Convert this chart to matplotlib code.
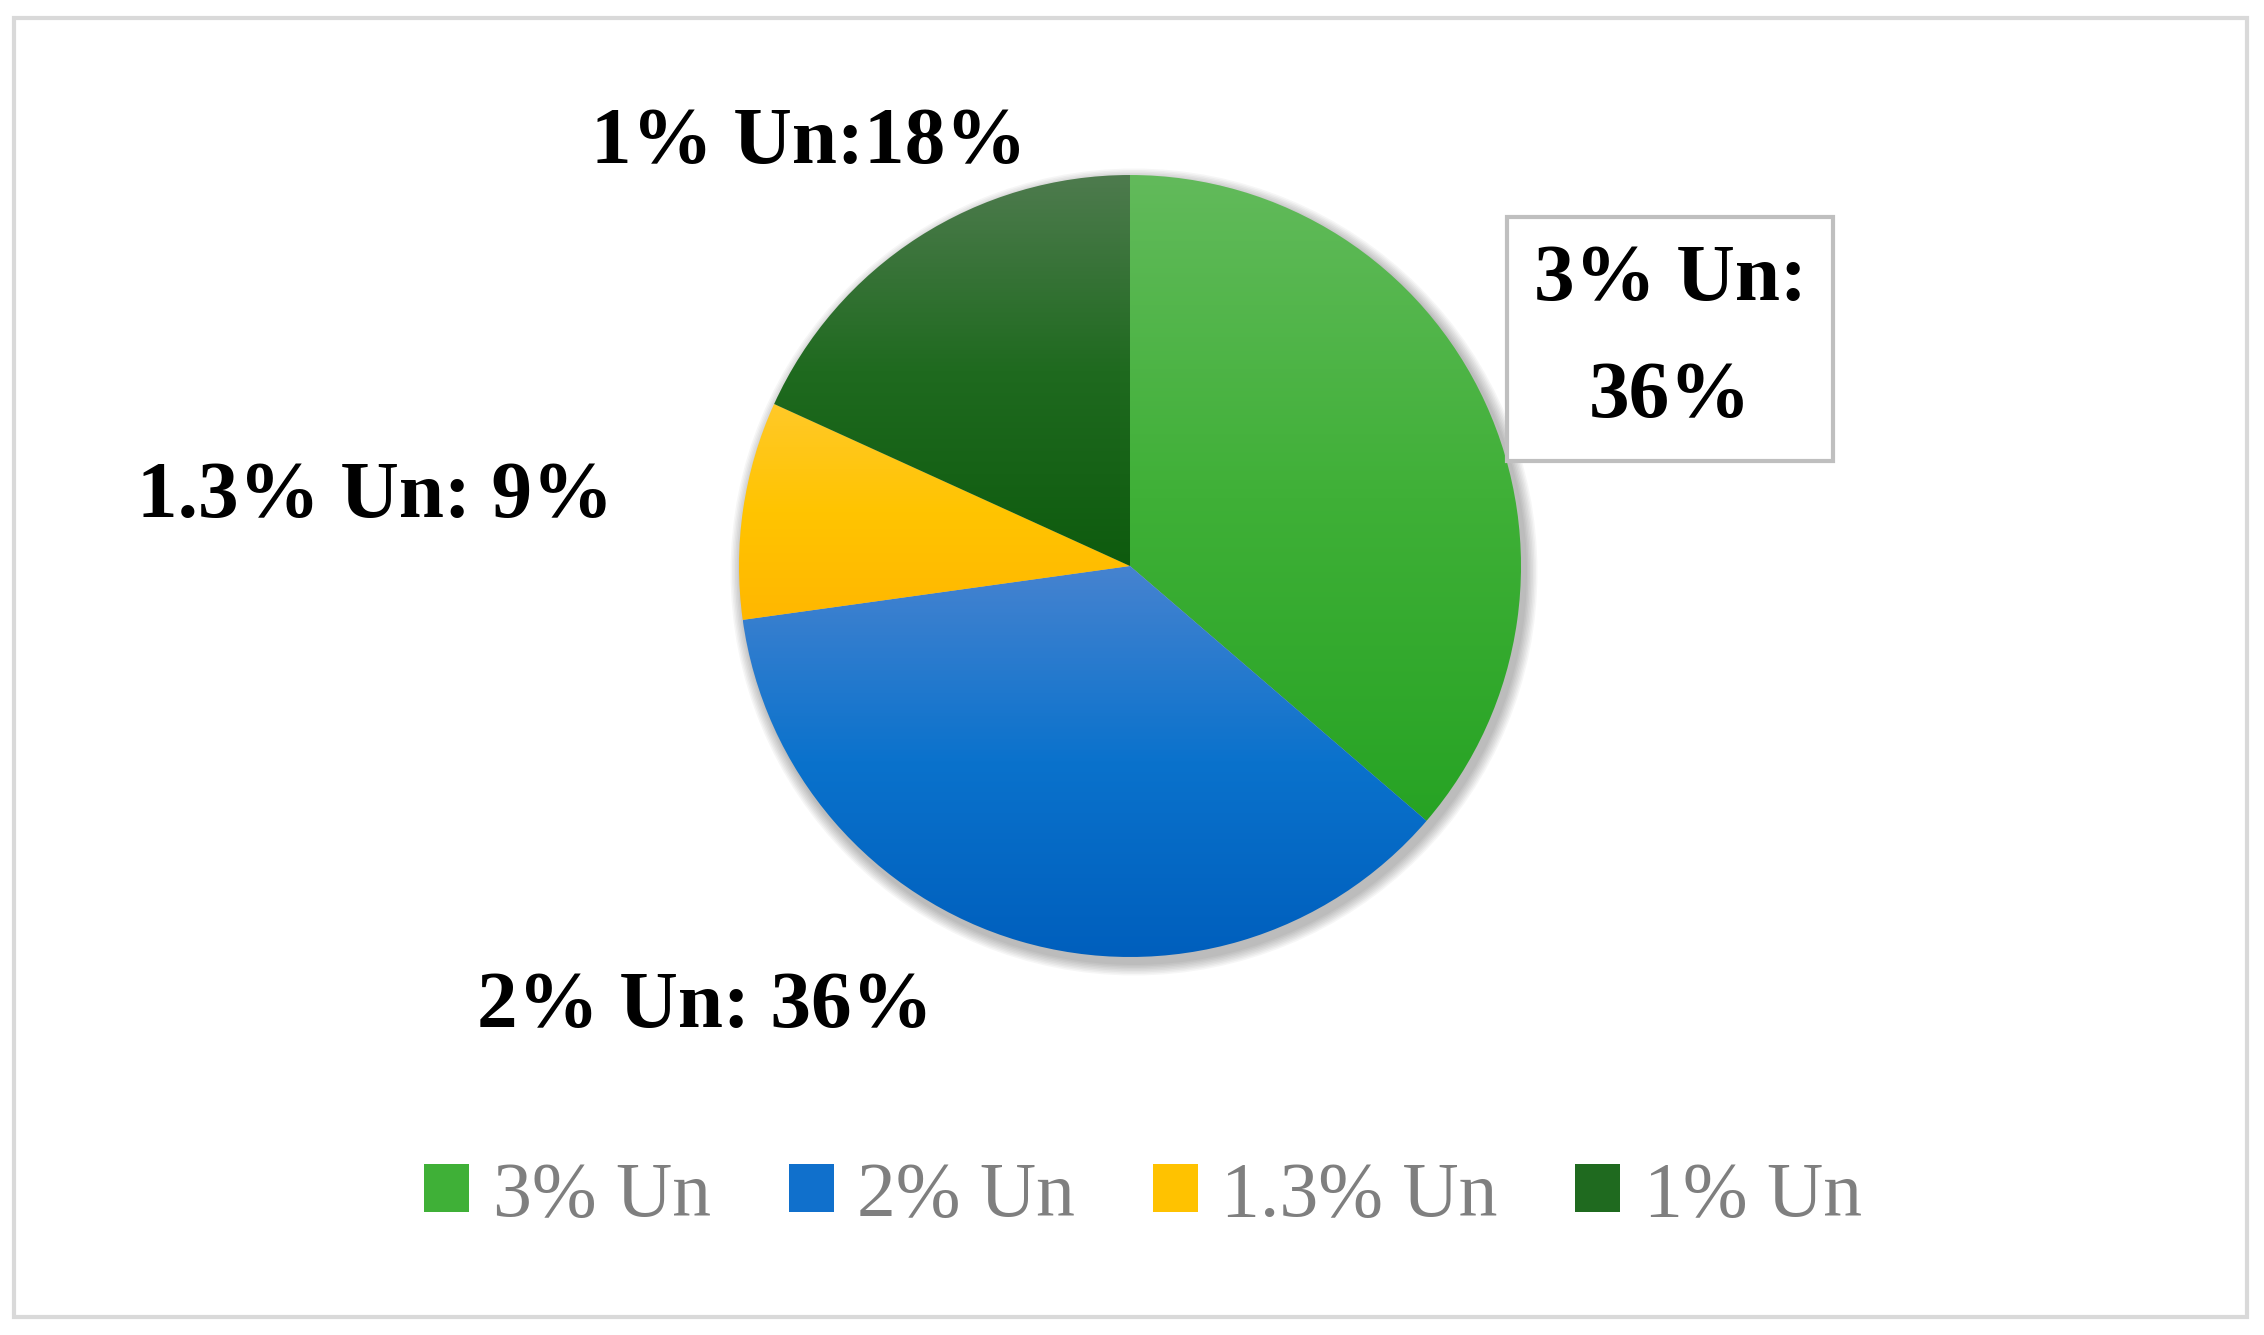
import numpy as np
import matplotlib
matplotlib.use("Agg")
import matplotlib.pyplot as plt
from matplotlib.colors import LinearSegmentedColormap
from matplotlib.patches import Rectangle, Circle

# data
categories = ["3% Un", "2% Un", "1.3% Un", "1% Un"]
shares = [36.3, 36.5, 9.0, 18.2]
slice_labels = ["3% Un:\n36%", "2% Un: 36%", "1.3% Un: 9%", "1% Un:18%"]

# gradient colours (top -> bottom) for each slice
grad_colors = [
    ["#62ba5b", "#3fb037", "#27a324"],
    ["#4683d0", "#0a72cc", "#005fbd"],
    ["#ffc928", "#ffc400", "#ffb700"],
    ["#4e7b4e", "#1f6a1f", "#0e5b0e"],
]
legend_colors = ["#3fb037", "#1070cc", "#ffc200", "#1f6a1f"]

W, H = 2264, 1335
fig = plt.figure(figsize=(W / 100, H / 100), dpi=100)
fig.patch.set_facecolor("white")
ax = fig.add_axes([0, 0, 1, 1])

cx, cy, r = 1130, H - 566, 391

# soft shadow behind the pie
for i in range(8):
    ax.add_patch(Circle((cx + 4, cy - 6), r + 2 + i * 1.5, color="black",
                        alpha=0.035, lw=0, zorder=0))

wedges, _ = ax.pie(shares, startangle=90, counterclock=False, center=(cx, cy),
                   radius=r, frame=True, wedgeprops=dict(lw=0))

for w, cols in zip(wedges, grad_colors):
    w.set_facecolor("none")
    ext = w.get_path().get_extents()
    cmap = LinearSegmentedColormap.from_list("g", cols)
    grad = np.linspace(0, 1, 256).reshape(-1, 1)
    im = ax.imshow(grad, cmap=cmap, extent=[ext.x0, ext.x1, ext.y0, ext.y1],
                   origin="upper", aspect="auto", zorder=2, interpolation="bilinear")
    im.set_clip_path(w)

ax.set_xlim(0, W)
ax.set_ylim(0, H)
ax.set_aspect("auto")
ax.axis("off")

font = "Liberation Serif"
lab_pos = [(1670, H - 339), (705, H - 1007), (375, H - 497), (809, H - 143)]
for (x, y), txt in zip(lab_pos, slice_labels):
    kw = {}
    if "\n" in txt:
        kw["bbox"] = dict(boxstyle="square,pad=0.33", fc="white", ec="#bfbfbf", lw=3)
    ax.text(x, y, txt, ha="center", va="center", fontsize=58.5, fontweight="bold",
            family=font, color="black", linespacing=1.78, zorder=5, **kw)

# legend
handles = [Rectangle((0, 0), 1, 1, fc=c, lw=0) for c in legend_colors]
leg = fig.legend(handles, categories, loc="center", bbox_to_anchor=(1143 / W, 1 - 1197 / H),
                 ncol=4, frameon=False, prop=dict(family=font, size=56),
                 handlelength=0.58, handleheight=0.58, handletextpad=0.3,
                 columnspacing=1.0)
for t in leg.get_texts():
    t.set_color("#7f7f7f")

# outer border
fig.patches.append(Rectangle((14 / W, 18 / H), (2247 - 14) / W, (1317 - 18) / H,
                             transform=fig.transFigure, fill=False, ec="#d9d9d9", lw=3))

fig.savefig("out.png", dpi=100)
